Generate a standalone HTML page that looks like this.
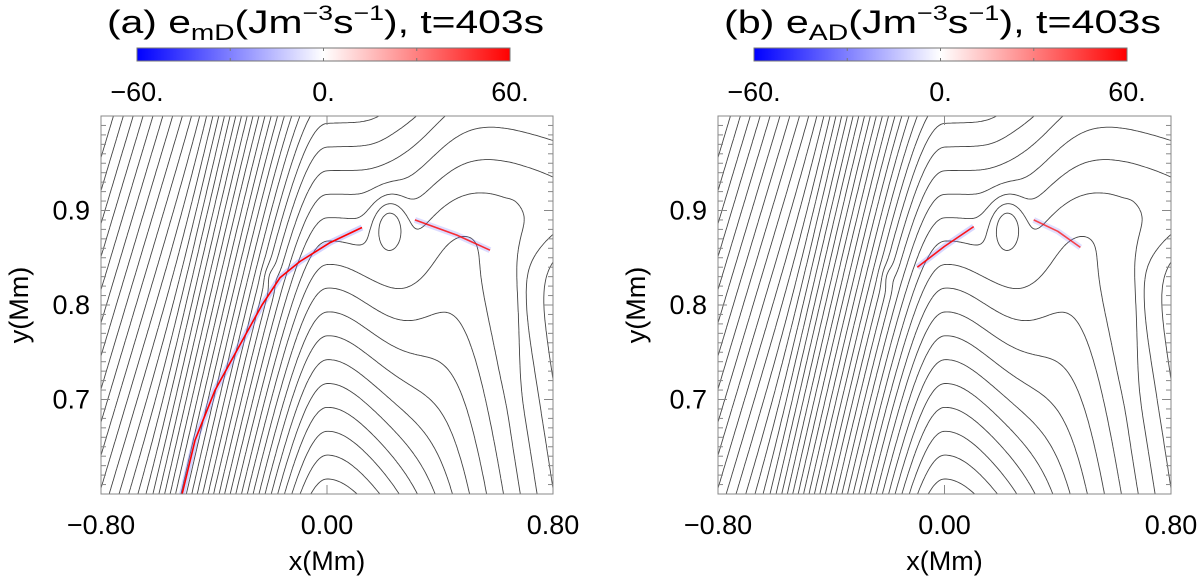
<!DOCTYPE html>
<html><head><meta charset="utf-8"><style>
html,body{margin:0;padding:0;background:#fff}
svg{display:block;font-family:"Liberation Sans","DejaVu Sans",sans-serif}
</style></head><body>
<svg id="fig" width="1200" height="578" viewBox="0 0 1200 578" xmlns="http://www.w3.org/2000/svg">
<defs>
<linearGradient id="cb" x1="0" x2="1" y1="0" y2="0">
<stop offset="0" stop-color="#0000ff"/><stop offset="0.5" stop-color="#ffffff"/><stop offset="1" stop-color="#ff0000"/>
</linearGradient>
<clipPath id="clipA"><rect x="101" y="116" width="452" height="378"/></clipPath>
<clipPath id="clipB"><rect x="718" y="116" width="453" height="378"/></clipPath>
</defs>
</svg>
<script>
// ---- data ----
const xTicks = [-0.8, 0.0, 0.8];
const xTickLabels = ["\u22120.80", "0.00", "0.80"];
const yTicks = [0.7, 0.8, 0.9];
const yTickLabels = ["0.7", "0.8", "0.9"];
const cbTicks = [-60, 0, 60];
const cbTickLabels = ["\u221260.", "0.", "60."];
// flux-function model parameters (field line geometry)
const domeCenterX = [0.0];
const domeCoreW = [0.136];
const domeSlopeLeft = [1.9];
const domeSlopeRight = [0.6];
const domeSlopeRightTop = [0.1];
const domeRise = [1.4];
const domeRiseRight = [0.3];
const domeRiseRightTop = [1.0];
const ambientOffset = [0.264];
const ambientSatX = [0.2];
const ambientCutY = [0.87];
const islandX = [0.22, -0.2, 0.66];
const islandY = [0.885, 0.83, 0.79];
const islandAmp = [0.09, 0.02, 0.03];
const islandSX = [0.06, 0.025, 0.025];
const islandSY = [0.03, 0.012, 0.07];
const levelStep = [0.035];
// current sheet traces
const sheetAX = [-0.513,-0.467,-0.396,-0.308,-0.230,-0.166,-0.096,0.011,0.124];
const sheetAY = [0.600,0.657,0.710,0.758,0.800,0.829,0.846,0.866,0.882];
const sheetA2X = [0.311,0.460,0.577];
const sheetA2Y = [0.890,0.874,0.858];
const sheetBX = [-0.096,0.0,0.103];
const sheetBY = [0.840,0.862,0.883];
const sheetB2X = [0.315,0.40,0.48];
const sheetB2Y = [0.890,0.878,0.861];

const NS="http://www.w3.org/2000/svg";
const svg=document.getElementById('fig');
function mk(tag,attrs,parent){const e=document.createElementNS(NS,tag);for(const k in attrs)e.setAttribute(k,attrs[k]);(parent||svg).appendChild(e);return e;}

const panels=[{L:101,T:116,W:452,H:378,clip:'clipA',cbL:137,title:['(a) e','mD'],sheets:[[sheetAX,sheetAY,1],[sheetA2X,sheetA2Y,0.8]],name:'a'},
              {L:718,T:116,W:453,H:378,clip:'clipB',cbL:754,title:['(b) e','AD'],sheets:[[sheetBX,sheetBY,0.9],[sheetB2X,sheetB2Y,0.7]],name:'b'}];
const CBW=373;

function sp(z,w){return z/w>30?z:w*Math.log(1+Math.exp(z/w));}
function A(x,y){
  const ws=0.05, xs=ambientSatX[0];
  const phi=-ws*Math.log(Math.exp(-x/ws)+Math.exp(-xs/ws));
  const tt=1/(1+Math.exp(-(y-ambientCutY[0])/0.02));
  const Lv=phi-y+ambientOffset[0]-1.5*sp(x-xs,0.05)*(1-tt);
  const dx=x-domeCenterX[0], w=domeCoreW[0];
  const sR=domeSlopeRight[0]*(1-tt)+domeSlopeRightTop[0]*tt;
  const sl=dx<0?domeSlopeLeft[0]:sR;
  const f=sl*(Math.sqrt(dx*dx+w*w)-w);
  const rR=domeRiseRight[0]*(1-tt)+domeRiseRightTop[0]*tt;
  const rise=rR+(domeRise[0]-rR)/(1+Math.exp((x-0.35)/0.08));
  const Dv=-rise*(y-0.6)-f;
  const wm=0.02, m=Math.max(Lv,Dv);
  let v=m+wm*Math.log(Math.exp((Lv-m)/wm)+Math.exp((Dv-m)/wm));
  for(let i=0;i<islandX.length;i++){
    const u=(x-islandX[i])/islandSX[i],q=(y-islandY[i])/islandSY[i];
    v+=islandAmp[i]*Math.exp(-u*u-q*q);
  }
  return v;
}

function contours(){
  const NX=260,NY=150,vals=[];
  let mn=1e9,mx=-1e9;
  for(let j=0;j<=NY;j++){const r=[];for(let i=0;i<=NX;i++){const x=-0.8+1.6*i/NX,y=0.6+0.4*j/NY;const v=A(x,y);r.push(v);if(v<mn)mn=v;if(v>mx)mx=v;}vals.push(r);}
  const segs=[];
  const st=levelStep[0];
  for(let lv=Math.ceil(mn/st)*st+st*0.37;lv<mx;lv+=st){
    for(let j=0;j<NY;j++)for(let i=0;i<NX;i++){
      const a=vals[j][i],b=vals[j][i+1],c=vals[j+1][i+1],d=vals[j+1][i];
      const pts=[];
      const ed=(v1,v2,x1,y1,x2,y2)=>{if((v1<lv)!==(v2<lv)){const t=(lv-v1)/(v2-v1);pts.push([x1+(x2-x1)*t,y1+(y2-y1)*t]);}};
      ed(a,b,i,j,i+1,j);ed(b,c,i+1,j,i+1,j+1);ed(c,d,i+1,j+1,i,j+1);ed(d,a,i,j+1,i,j);
      for(let k=0;k+1<pts.length;k+=2)segs.push([pts[k][0]/NX,pts[k][1]/NY,pts[k+1][0]/NX,pts[k+1][1]/NY]);
    }
  }
  return segs;
}
const segs=contours();

panels.forEach(p=>{
  const sx=v=>p.L+(v+0.8)/1.6*p.W, sy=v=>p.T+p.H-(v-0.6)/0.4*p.H;
  const g=mk('g',{});
  
  
  const t=mk('text',{x:p.L+6,y:33,'font-size':32,fill:'#000'},g);
  
  
  t.innerHTML=p.title[0]+'<tspan font-size="22" dy="7">'+p.title[1]+'</tspan><tspan dy="-7">(Jm</tspan><tspan font-size="21" dy="-13">\u22123</tspan><tspan dy="13">s</tspan><tspan font-size="21" dy="-13">\u22121</tspan><tspan dy="13">), t=403s</tspan>';
  t.setAttribute('textLength',437);
  t.setAttribute('lengthAdjust','spacingAndGlyphs');
  const cb=mk('rect',{x:p.cbL,y:48,width:CBW,height:13,fill:'url(#cb)',stroke:'#777','stroke-width':1},g);
  
  
  for(let q=1;q<4;q++){mk('line',{x1:p.cbL+CBW*q/4,x2:p.cbL+CBW*q/4,y1:48,y2:51,stroke:'#777'},g);mk('line',{x1:p.cbL+CBW*q/4,x2:p.cbL+CBW*q/4,y1:58,y2:61,stroke:'#777'},g);}
  cbTicks.forEach((v,i)=>{
    const tx=mk('text',{x:p.cbL+(v+60)/120*CBW,y:101,'font-size':27,'text-anchor':'middle'},g);
    
    
    tx.textContent=cbTickLabels[i];
  });
  const cg=mk('g',{'clip-path':'url(#'+p.clip+')'},g);
  let d='';
  segs.forEach(s=>{d+='M'+(p.L+s[0]*p.W).toFixed(1)+' '+(p.T+p.H-s[1]*p.H).toFixed(1)+'L'+(p.L+s[2]*p.W).toFixed(1)+' '+(p.T+p.H-s[3]*p.H).toFixed(1);});
  const cp=mk('path',{d:d,stroke:'#444','stroke-width':0.9,fill:'none'},cg);
  
  
  p.sheets.forEach(sh=>{
    const pts=sh[0].map((x,i)=>sx(x).toFixed(1)+','+sy(sh[1][i]).toFixed(1)).join(' ');
    const b=mk('polyline',{points:pts,fill:'none',stroke:'#8080ff','stroke-width':6,'stroke-opacity':0.35*sh[2],'stroke-linejoin':'round'},cg);
    
    
    const r=mk('polyline',{points:pts,fill:'none',stroke:'#ff0000','stroke-width':1.6,'stroke-opacity':sh[2],'stroke-linejoin':'round'},cg);
    
    
  });
  const bx=mk('rect',{x:p.L,y:p.T,width:p.W,height:p.H,fill:'none',stroke:'#888','stroke-width':1},g);
  
  
  for(let k=0;k<=40;k++){
    const yy=p.T+p.H-k/40*p.H, len=(k%10===0)?9:5;
    mk('line',{x1:p.L,x2:p.L+len,y1:yy,y2:yy,stroke:'#888'},g);
    mk('line',{x1:p.L+p.W,x2:p.L+p.W-len,y1:yy,y2:yy,stroke:'#888'},g);
  }
  xTicks.forEach((v,i)=>{
    mk('line',{x1:sx(v),x2:sx(v),y1:p.T,y2:p.T+9,stroke:'#888'},g);
    mk('line',{x1:sx(v),x2:sx(v),y1:p.T+p.H,y2:p.T+p.H-9,stroke:'#888'},g);
    const tx=mk('text',{x:sx(v),y:534,'font-size':27,'text-anchor':'middle'},g);
    
    
    tx.textContent=xTickLabels[i];
  });
  yTicks.forEach((v,i)=>{
    const tx=mk('text',{x:p.L-11,y:sy(v)+9,'font-size':27,'text-anchor':'end'},g);
    
    
    tx.textContent=yTickLabels[i];
  });
  const xt=mk('text',{x:p.L+p.W/2,y:570,'font-size':27,'text-anchor':'middle'},g);
  
  
  xt.textContent='x(Mm)';
  const yt=mk('text',{x:0,y:0,'font-size':27,'text-anchor':'middle',transform:'translate('+(p.L-73)+','+(p.T+p.H/2)+') rotate(-90)'},g);
  
  
  yt.textContent='y(Mm)';
});
</script>
</body></html>
